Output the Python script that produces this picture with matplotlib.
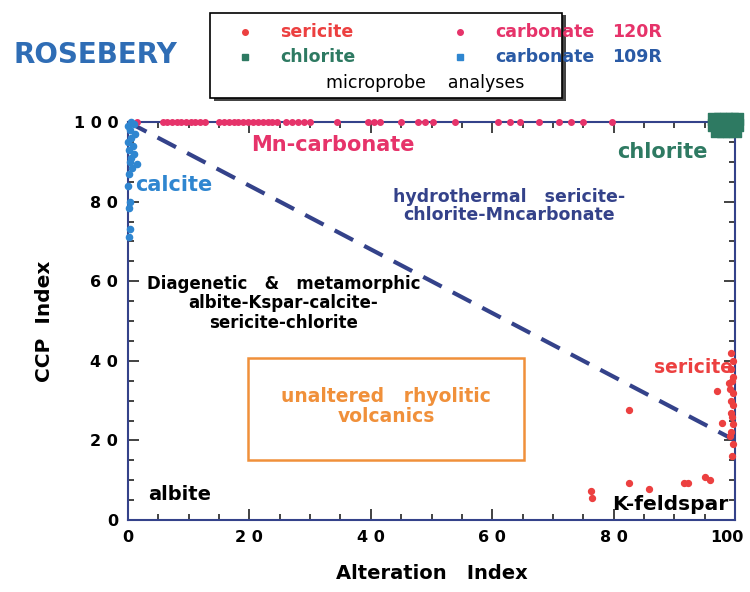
import numpy as np
import matplotlib.pyplot as plt
import matplotlib.transforms as mtransforms
from matplotlib.patches import Rectangle
from matplotlib.lines import Line2D

# carbonate 120R (Mn-carbonate) along CCP = 100
carb120_x = [1.5, 5.8, 6.5, 7.2, 8.0, 8.8, 9.5, 10.3, 11.0, 11.8, 12.6, 15.0, 15.8, 16.6,
             17.4, 18.2, 19.0, 19.8, 20.6, 21.4, 22.2, 23.0, 23.8, 24.6, 26.0, 27.0, 28.0,
             29.0, 30.0, 34.5, 39.5, 40.5, 41.5, 45.0, 47.8, 49.0, 50.3, 53.8, 61.0,
             62.9, 64.5, 67.7, 71.0, 73.0, 75.0, 79.7]
carb120_y = [100.0] * len(carb120_x)

# carbonate 109R (calcite) along AI = 0
carb109_x = [0.5, 1.0, 0.0, 0.3, 1.2, 0.5, 0.0, 0.8, 0.2, 1.0, 0.5, 0.3, 1.5, 0.7, 0.2,
             0.0, 0.3, 0.2, 0.4, 0.2]
carb109_y = [100.0, 99.5, 99.0, 98.0, 97.0, 96.0, 95.0, 94.0, 93.0, 92.0, 91.0, 90.0,
             89.5, 88.5, 87.0, 84.0, 80.0, 78.5, 73.0, 71.0]

# chlorite cluster at top right
chl_x = [96.5, 97.5, 98.5, 99.5, 100.3, 96.5, 97.5, 98.5, 99.5, 100.3,
         97.0, 98.0, 99.0, 100.0]
chl_y = [100.8, 100.8, 100.8, 100.8, 100.8, 99.2, 99.2, 99.2, 99.2, 99.2,
         97.8, 97.8, 97.8, 97.8]

# sericite
ser_x = [99.4, 99.6, 99.3, 99.7, 99.5, 99.2, 99.6, 99.4, 99.7, 99.3, 99.5, 99.6, 99.4,
         99.2, 99.6, 99.5, 97.0, 97.8, 99.0, 82.6, 76.2, 76.4, 82.5, 85.8, 91.6, 92.2,
         95.0, 95.9]
ser_y = [42.0, 40.0, 38.0, 36.0, 35.0, 33.0, 32.0, 30.0, 29.0, 27.0, 26.0, 24.0, 22.0,
         21.0, 19.0, 16.0, 32.5, 24.5, 34.5, 27.6, 7.3, 5.5, 9.3, 7.8, 9.3, 9.3, 10.8,
         10.0]

# boundary between diagenetic and hydrothermal fields
line_x = [0, 100]
line_y = [100, 20]

ticks = [0, 20, 40, 60, 80, 100]
ytick_labels = ['0', '2 0', '4 0', '6 0', '8 0', '1 0 0']
xtick_labels = ['0', '2 0', '4 0', '6 0', '8 0', '100']

navy = '#34428a'
red = '#ec4040'
pink = '#e6336a'
green = '#2e7a62'
blue = '#2f86d0'
orange = '#f0903a'


def main():
    plt.rcParams['font.family'] = ['DejaVu Sans']
    fig = plt.figure(figsize=(7.5, 5.92), dpi=100)
    ax = fig.add_axes([0.1707, 0.1216, 0.8093, 0.6723])

    ax.plot(line_x, line_y, color=navy, linestyle=(0, (5, 3)), linewidth=3)

    ax.scatter(carb120_x, carb120_y, s=16, color=pink, zorder=3, clip_on=False)
    ax.scatter(carb109_x, carb109_y, s=20, color=blue, zorder=3, clip_on=False)
    ax.scatter(chl_x, chl_y, s=70, color=green, marker='s', zorder=3, clip_on=False)
    ax.scatter(ser_x, ser_y, s=18, color=red, zorder=3, clip_on=False)

    ax.set_xlim(0, 100)
    ax.set_ylim(0, 100)
    ax.set_xticks(ticks)
    ax.set_xticklabels(xtick_labels)
    ax.set_yticks(ticks)
    ax.set_yticklabels(ytick_labels)
    ax.set_xticks(np.arange(0, 101, 5), minor=True)
    ax.set_yticks(np.arange(0, 101, 5), minor=True)
    ax.tick_params(which='both', direction='in', top=True, right=True,
                   color='#222222', width=1.2)
    ax.tick_params(which='major', length=8, labelsize=11.5, pad=7)
    ax.tick_params(which='minor', length=4)
    for lab in ax.get_xticklabels() + ax.get_yticklabels():
        lab.set_fontweight('bold')
    # keep the last x label inside the figure edge
    last = ax.get_xticklabels()[-1]
    last.set_transform(last.get_transform() +
                       mtransforms.ScaledTranslation(-8 / 100, 0, fig.dpi_scale_trans))
    for sp in ax.spines.values():
        sp.set_color(navy)
        sp.set_linewidth(1.5)

    ax.set_xlabel('Alteration   Index', fontsize=14, fontweight='bold', labelpad=14)
    ax.set_ylabel('CCP  Index', fontsize=14.5, fontweight='bold', labelpad=14)

    # field labels
    ax.text(20.2, 94.2, 'Mn-carbonate', color=pink, fontsize=15, fontweight='bold',
            va='center')
    ax.text(80.5, 92.5, 'chlorite', color=green, fontsize=15, fontweight='bold',
            va='center')
    ax.text(1.2, 84.2, 'calcite', color=blue, fontsize=15, fontweight='bold',
            va='center')
    ax.text(62.8, 78.9, 'hydrothermal   sericite-\nchlorite-Mncarbonate', color=navy,
            fontsize=12.5, fontweight='bold', ha='center', va='center', linespacing=1.05)
    ax.text(25.6, 54.5, 'Diagenetic   &   metamorphic\nalbite-Kspar-calcite-\nsericite-chlorite',
            color='black', fontsize=12, fontweight='bold', ha='center', va='center',
            linespacing=1.1)
    ax.add_patch(Rectangle((19.8, 15.0), 45.5, 25.7, fill=False, edgecolor=orange,
                           linewidth=1.8))
    ax.text(42.5, 28.5, 'unaltered   rhyolitic\nvolcanics', color=orange, fontsize=13.5,
            fontweight='bold', ha='center', va='center', linespacing=1.05)
    ax.text(86.6, 38.2, 'sericite', color=red, fontsize=13.5, fontweight='bold',
            va='center')
    ax.text(79.8, 3.8, 'K-feldspar', color='black', fontsize=14.5, fontweight='bold',
            va='center')
    ax.text(3.3, 6.5, 'albite', color='black', fontsize=14, fontweight='bold',
            va='center')

    # title and legend box
    fig.text(95 / 750, 1 - 55 / 592, 'ROSEBERY', color='#2f6db5', fontsize=20,
             fontweight='bold', ha='center', va='center')
    fig.patches.append(Rectangle((214 / 750, 1 - 101 / 592), 352 / 750, 86 / 592,
                                 transform=fig.transFigure, facecolor='#444444',
                                 edgecolor='none', zorder=1))
    fig.patches.append(Rectangle((210 / 750, 1 - 98 / 592), 352 / 750, 85 / 592,
                                 transform=fig.transFigure, facecolor='white',
                                 edgecolor='black', linewidth=1.2, zorder=2))
    markers = [(245, 32, 'o', 4, red), (245, 57, 's', 5, green),
               (460, 32, 'o', 4, pink), (460, 57, 's', 4, blue)]
    for px, py, mk, ms, col in markers:
        fig.add_artist(Line2D([px / 750], [1 - py / 592], marker=mk, markersize=ms,
                              color=col, linestyle='none', transform=fig.transFigure,
                              zorder=5))
    leg_items = [
        (280, 32, 'sericite', red),
        (280, 57, 'chlorite', green),
        (495, 32, 'carbonate', pink),
        (495, 57, 'carbonate', '#2a5aa5'),
        (612, 32, '120R', pink),
        (612, 57, '109R', '#2a5aa5'),
    ]
    for px, py, txt, col in leg_items:
        fig.text(px / 750, 1 - py / 592, txt, color=col, fontsize=12.5,
                 fontweight='bold', va='center', zorder=5)
    fig.text(425 / 750, 1 - 83 / 592, 'microprobe    analyses', color='black',
             fontsize=12.5, ha='center', va='center', zorder=5)

    fig.savefig('out.png', dpi=100)


if __name__ == "__main__":
    main()
